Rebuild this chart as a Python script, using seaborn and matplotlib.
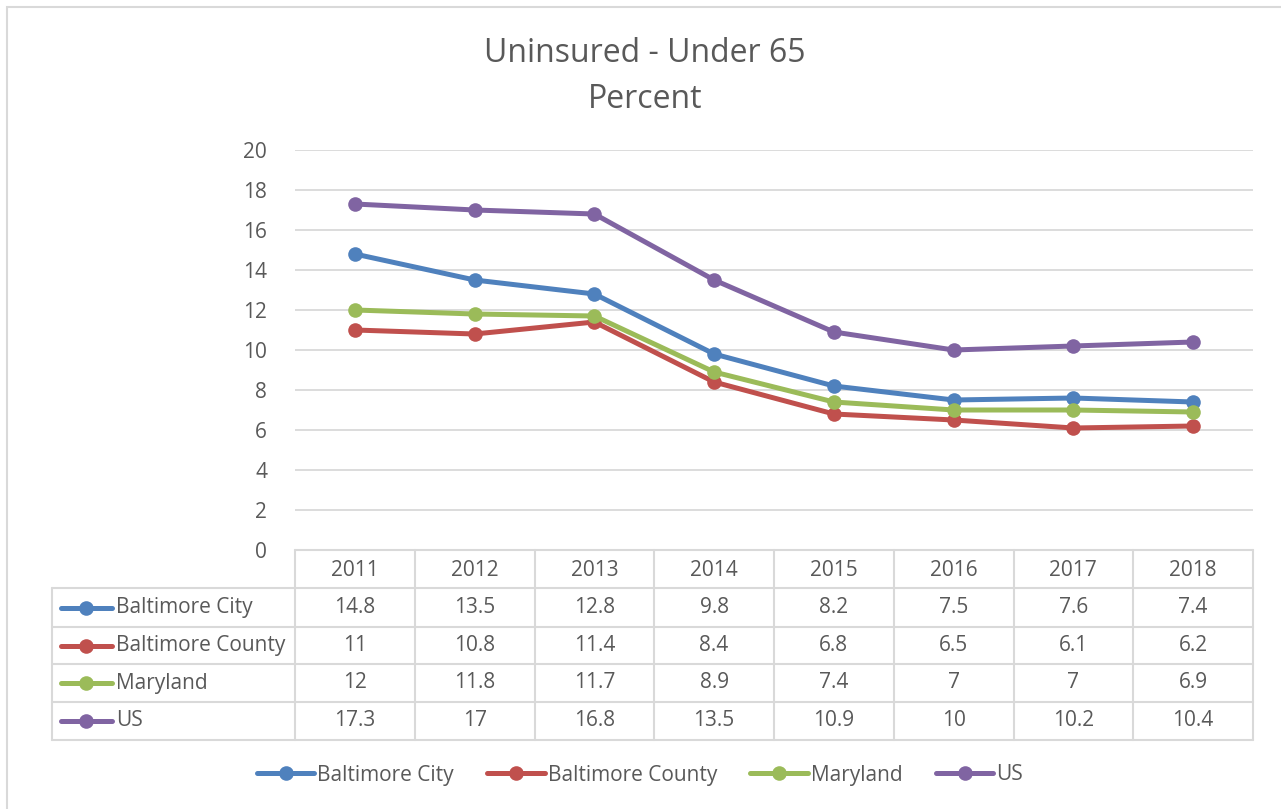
import matplotlib
matplotlib.use("Agg")
import matplotlib.pyplot as plt
from matplotlib.lines import Line2D
from matplotlib.patches import Rectangle
import seaborn as sns
import pandas as pd

years = ["2011", "2012", "2013", "2014", "2015", "2016", "2017", "2018"]
series_names = ["Baltimore City", "Baltimore County", "Maryland", "US"]
baltimore_city = [14.8, 13.5, 12.8, 9.8, 8.2, 7.5, 7.6, 7.4]
baltimore_county = [11, 10.8, 11.4, 8.4, 6.8, 6.5, 6.1, 6.2]
maryland = [12, 11.8, 11.7, 8.9, 7.4, 7, 7, 6.9]
us = [17.3, 17, 16.8, 13.5, 10.9, 10, 10.2, 10.4]
value_labels = [
    ["14.8", "13.5", "12.8", "9.8", "8.2", "7.5", "7.6", "7.4"],
    ["11", "10.8", "11.4", "8.4", "6.8", "6.5", "6.1", "6.2"],
    ["12", "11.8", "11.7", "8.9", "7.4", "7", "7", "6.9"],
    ["17.3", "17", "16.8", "13.5", "10.9", "10", "10.2", "10.4"],
]
colors = ["#4F81BD", "#C0504D", "#9BBB59", "#8064A2"]
title_lines = ["Uninsured - Under 65", "Percent"]
yticks = [0, 2, 4, 6, 8, 10, 12, 14, 16, 18, 20]

sns.set_theme(style="white")
plt.rcParams["font.family"] = ["Open Sans", "DejaVu Sans"]
TXT = "#595959"
GRID = "#D9D9D9"
FS = 15
LW = 3.6
MS = 10.5

W, H = 1281, 809
fig = plt.figure(figsize=(W / 100, H / 100), dpi=100)

def fx(px):
    return px / W

def fy(py):
    return 1 - py / H

# chart border
fig.add_artist(Rectangle((fx(7), fy(H + 5)), 1.2, fy(7) - fy(H + 5),
                         transform=fig.transFigure, fill=False,
                         edgecolor=GRID, linewidth=1.5))

# main axes
L, R, T, B = 295, 1253, 150, 550
ax = fig.add_axes([fx(L), fy(B), fx(R - L), fy(T) - fy(B)])

all_series = [baltimore_city, baltimore_county, maryland, us]
rows = []
for name, vals in zip(series_names, all_series):
    for i, v in enumerate(vals):
        rows.append({"x": i, "value": v, "series": name})
df = pd.DataFrame(rows)

sns.lineplot(data=df, x="x", y="value", hue="series", hue_order=series_names,
             palette=colors, marker="o", markersize=MS, markeredgewidth=0,
             linewidth=LW, ax=ax, legend=False)

ax.set_xlim(-0.5, len(years) - 0.5)
ax.set_ylim(0, 20)
ax.set_yticks(yticks)
ax.set_yticklabels([str(t) for t in yticks], color=TXT, fontsize=FS)
ax.set_xticks([])
ax.set_xlabel("")
ax.set_ylabel("")
ax.tick_params(axis="y", length=0, pad=20)
for s in ax.spines.values():
    s.set_visible(False)
ax.grid(axis="y", color=GRID, linewidth=1.3)
ax.set_axisbelow(True)

# title
fig.text(fx(645), fy(53), title_lines[0], ha="center", va="center",
         fontsize=23, color=TXT)
fig.text(fx(645), fy(100), title_lines[1], ha="center", va="center",
         fontsize=23, color=TXT)

# data table
TL, TR, TT, TB = 52, 1253, 550, 740
tax = fig.add_axes([fx(TL), fy(TB), fx(TR - TL), fy(TT) - fy(TB)])
tax.set_xlim(TL, TR)
tax.set_ylim(TB, TT)
tax.axis("off")
ncol = len(years)
colw = (TR - L) / ncol
row_edges = [550, 588, 627, 664, 702, 740]
lw = 1.5
tax.plot([L, TR], [row_edges[0]] * 2, color=GRID, lw=lw, clip_on=False)
for yv in row_edges[1:]:
    tax.plot([TL, TR], [yv, yv], color=GRID, lw=lw, clip_on=False)
tax.plot([TL, TL], [row_edges[1], row_edges[-1]], color=GRID, lw=lw, clip_on=False)
for j in range(ncol + 1):
    xv = L + j * colw
    tax.plot([xv, xv], [row_edges[0], row_edges[-1]], color=GRID, lw=lw, clip_on=False)
for j, yr in enumerate(years):
    tax.text(L + (j + 0.5) * colw, (row_edges[0] + row_edges[1]) / 2 + 1, yr,
             ha="center", va="center", fontsize=FS, color=TXT)
for r, name in enumerate(series_names):
    yc = (row_edges[r + 1] + row_edges[r + 2]) / 2
    tax.plot([61, 112], [yc, yc], color=colors[r], lw=LW, solid_capstyle="round")
    tax.plot([86], [yc], marker="o", color=colors[r], markersize=MS, markeredgewidth=0)
    tax.text(116, yc, name, ha="left", va="center", fontsize=FS, color=TXT)
    for j, lab in enumerate(value_labels[r]):
        tax.text(L + (j + 0.5) * colw, yc, lab, ha="center", va="center",
                 fontsize=FS, color=TXT)

# bottom legend
handles = [Line2D([0], [0], color=c, lw=LW, marker="o", markersize=MS,
                  markeredgewidth=0) for c in colors]
leg = fig.legend(handles, series_names, loc="center", ncol=4,
                 bbox_to_anchor=(fx(640), fy(775)), frameon=False,
                 fontsize=FS, handlelength=2.75, handletextpad=0.15,
                 columnspacing=1.6, labelcolor=TXT)

fig.savefig("out.png", dpi=100)
